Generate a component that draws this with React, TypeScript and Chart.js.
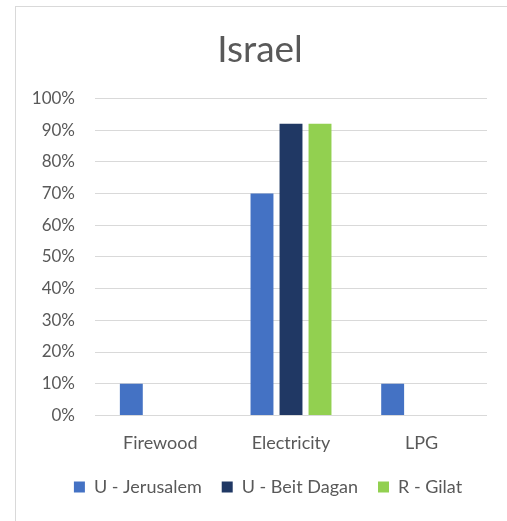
import React, { useEffect, useRef } from "react";
import { Chart, registerables } from "chart.js";

Chart.register(...registerables);

const categories = ["Firewood", "Electricity", "LPG"];
const jerusalem = [10, 70, 10];
const beitDagan = [0, 92, 0];
const gilat = [0, 92, 0];
const yTicks = [0, 10, 20, 30, 40, 50, 60, 70, 80, 90, 100];

const FONT = "Lato, 'Open Sans', sans-serif";
const TEXT = "#595959";

const shiftPlugin = {
  id: "shiftBoxes",
  afterLayout(chart: any) {
    const lg = chart.legend;
    if (lg) {
      lg.left += 17;
      lg.right += 17;
      lg.top -= 13;
      lg.bottom -= 13;
    }
    const tb = chart.titleBlock;
    if (tb) {
      tb.left += 9;
      tb.right += 9;
      tb.top += 2;
      tb.bottom += 2;
    }
  },
};

export default function App() {
  const ref = useRef<HTMLCanvasElement | null>(null);
  useEffect(() => {
    document.body.style.margin = "0";
    const ctx = ref.current!;
    const chart = new Chart(ctx, {
      type: "bar",
      data: {
        labels: categories,
        datasets: [
          { label: "U - Jerusalem", data: jerusalem, backgroundColor: "#4472C4" },
          { label: "U - Beit Dagan", data: beitDagan, backgroundColor: "#203864" },
          { label: "R - Gilat", data: gilat, backgroundColor: "#92D050" },
        ],
      },
      options: {
        animation: false,
        responsive: false,
        devicePixelRatio: 1,
        datasets: { bar: { categoryPercentage: 0.666, barPercentage: 0.79 } },
        layout: { padding: { left: 0, right: 18, top: 0, bottom: 0 } },
        plugins: {
          title: {
            display: true,
            text: "Israel",
            color: TEXT,
            font: { family: FONT, size: 37, weight: "normal" },
            padding: { top: 20, bottom: 28 },
          },
          legend: {
            position: "bottom",
            labels: {
              color: TEXT,
              font: { family: FONT, size: 18 },
              boxWidth: 11,
              boxHeight: 11,
              padding: 20,
            },
          },
          tooltip: { enabled: false },
        },
        scales: {
          x: {
            grid: { display: false, drawTicks: false },
            border: { display: false },
            ticks: { color: TEXT, font: { family: FONT, size: 18 }, padding: 17 },
          },
          y: {
            min: 0,
            max: 100,
            afterFit: (s: any) => {
              s.width = 80;
            },
            afterBuildTicks: (s: any) => {
              s.ticks = yTicks.map((v) => ({ value: v }));
            },
            grid: { color: "#d9d9d9", lineWidth: 1, drawTicks: false },
            border: { display: false },
            ticks: {
              color: TEXT,
              font: { family: FONT, size: 17 },
              padding: 20,
              callback: (v: any) => v + "%",
            },
          },
        },
      },
      plugins: [shiftPlugin],
    });
    return () => chart.destroy();
  }, []);
  return (
    <div style={{ position: "absolute", left: 0, top: 0, width: 507, height: 521, overflow: "hidden", background: "#fff" }}>
      <div
        style={{
          position: "absolute",
          left: 15,
          top: 6,
          width: 600,
          height: 600,
          border: "1px solid #d9d9d9",
        }}
      />
      <canvas
        ref={ref}
        width={490}
        height={513}
        style={{ position: "absolute", left: 15, top: 6, width: 490, height: 513 }}
      />
    </div>
  );
}
